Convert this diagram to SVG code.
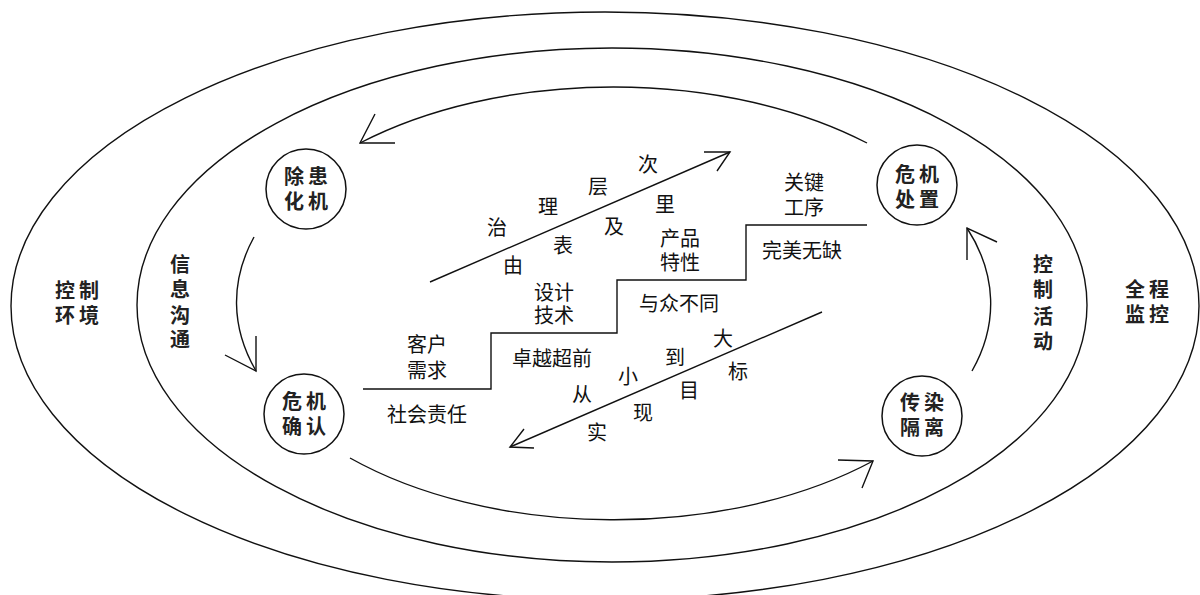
<svg xmlns="http://www.w3.org/2000/svg" width="1200" height="595" viewBox="0 0 1200 595">
<style>
.ln{fill:none;stroke:#111;stroke-width:1.4}
.c{fill:#fff;stroke:#111;stroke-width:1.5}
.t{font-family:"Noto Sans CJK SC","Noto Sans",sans-serif;font-size:20px;fill:#111;text-anchor:middle}
.b{font-family:"Noto Sans CJK SC","Noto Sans",sans-serif;font-size:20px;font-weight:bold;fill:#222;text-anchor:middle;letter-spacing:4px}
.v{letter-spacing:0}
</style>
<rect width="1200" height="595" fill="#fff"/>
<g id="rings">
<ellipse class="ln" cx="605" cy="306" rx="594" ry="294"/>
<ellipse class="ln" cx="612" cy="305" rx="475" ry="257"/>
</g>
<g id="connectors">
<path class="ln" d="M867,143 A378,217 0 0 0 360,143"/>
<path class="ln" d="M375,114 L360,143 L395,143"/>
<path class="ln" d="M254,237 A378,217 0 0 0 256,371"/>
<path class="ln" d="M256,336 L256,371 L225,355"/>
<path class="ln" d="M350,458 A378,217 0 0 0 873,461"/>
<path class="ln" d="M838,460 L873,461 L862,488"/>
<path class="ln" d="M972,371 A378,217 0 0 0 967,228"/>
<path class="ln" d="M967,260 L967,228 L997,242"/>
<path class="ln" d="M430,282 L730,152"/>
<path class="ln" d="M704,152 L730,152 L717,171"/>
<path class="ln" d="M822,312 L510,447"/>
<path class="ln" d="M534,448 L510,447 L524,429"/>
<path class="ln" d="M363,389 H491 V333 H617 V280 H746 V225 H867"/>
</g>
<g id="node-chuhuan">
<circle class="c" cx="306" cy="189" r="40"/>
<text class="b" x="308" y="184">除患<tspan x="308" dy="25">化机</tspan></text>
</g>
<g id="node-chuzhi">
<circle class="c" cx="917" cy="185" r="40"/>
<text class="b" x="919" y="182">危机<tspan x="919" dy="25">处置</tspan></text>
</g>
<g id="node-queren">
<circle class="c" cx="304" cy="414" r="40"/>
<text class="b" x="306" y="409">危机<tspan x="306" dy="25">确认</tspan></text>
</g>
<g id="node-geli">
<circle class="c" cx="922" cy="416" r="40"/>
<text class="b" x="924" y="410">传染<tspan x="924" dy="25">隔离</tspan></text>
</g>
<g id="label-huanjing">
<text class="b" x="79" y="298">控制<tspan x="79" dy="25">环境</tspan></text>
</g>
<g id="label-goutong">
<text class="b v" x="180" y="272">信<tspan x="180" dy="25">息</tspan><tspan x="180" dy="26">沟</tspan><tspan x="180" dy="24">通</tspan></text>
</g>
<g id="label-huodong">
<text class="b v" x="1043" y="272">控<tspan x="1043" dy="25">制</tspan><tspan x="1043" dy="27">活</tspan><tspan x="1043" dy="25">动</tspan></text>
</g>
<g id="label-jiankong">
<text class="b" x="1149" y="297">全程<tspan x="1149" dy="25">监控</tspan></text>
</g>
<g id="upper-diagonal-text">
<text class="t" x="497" y="235">治</text>
<text class="t" x="548" y="214">理</text>
<text class="t" x="598" y="194">层</text>
<text class="t" x="648" y="172">次</text>
<text class="t" x="513" y="273">由</text>
<text class="t" x="563" y="253">表</text>
<text class="t" x="614" y="234">及</text>
<text class="t" x="665" y="212">里</text>
</g>
<g id="lower-diagonal-text">
<text class="t" x="582" y="402">从</text>
<text class="t" x="628" y="384">小</text>
<text class="t" x="675" y="365">到</text>
<text class="t" x="723" y="346">大</text>
<text class="t" x="597" y="440">实</text>
<text class="t" x="643" y="420">现</text>
<text class="t" x="689" y="398">目</text>
<text class="t" x="738" y="379">标</text>
</g>
<g id="stair-text">
<text class="t" x="427" y="352">客户<tspan x="427" dy="26">需求</tspan></text>
<text class="t" x="427" y="422">社会责任</text>
<text class="t" x="554" y="300">设计<tspan x="554" dy="23">技术</tspan></text>
<text class="t" x="552" y="366">卓越超前</text>
<text class="t" x="680" y="246">产品<tspan x="680" dy="24">特性</tspan></text>
<text class="t" x="679" y="311">与众不同</text>
<text class="t" x="804" y="190">关键<tspan x="804" dy="25">工序</tspan></text>
<text class="t" x="802" y="258">完美无缺</text>
</g>
</svg>
